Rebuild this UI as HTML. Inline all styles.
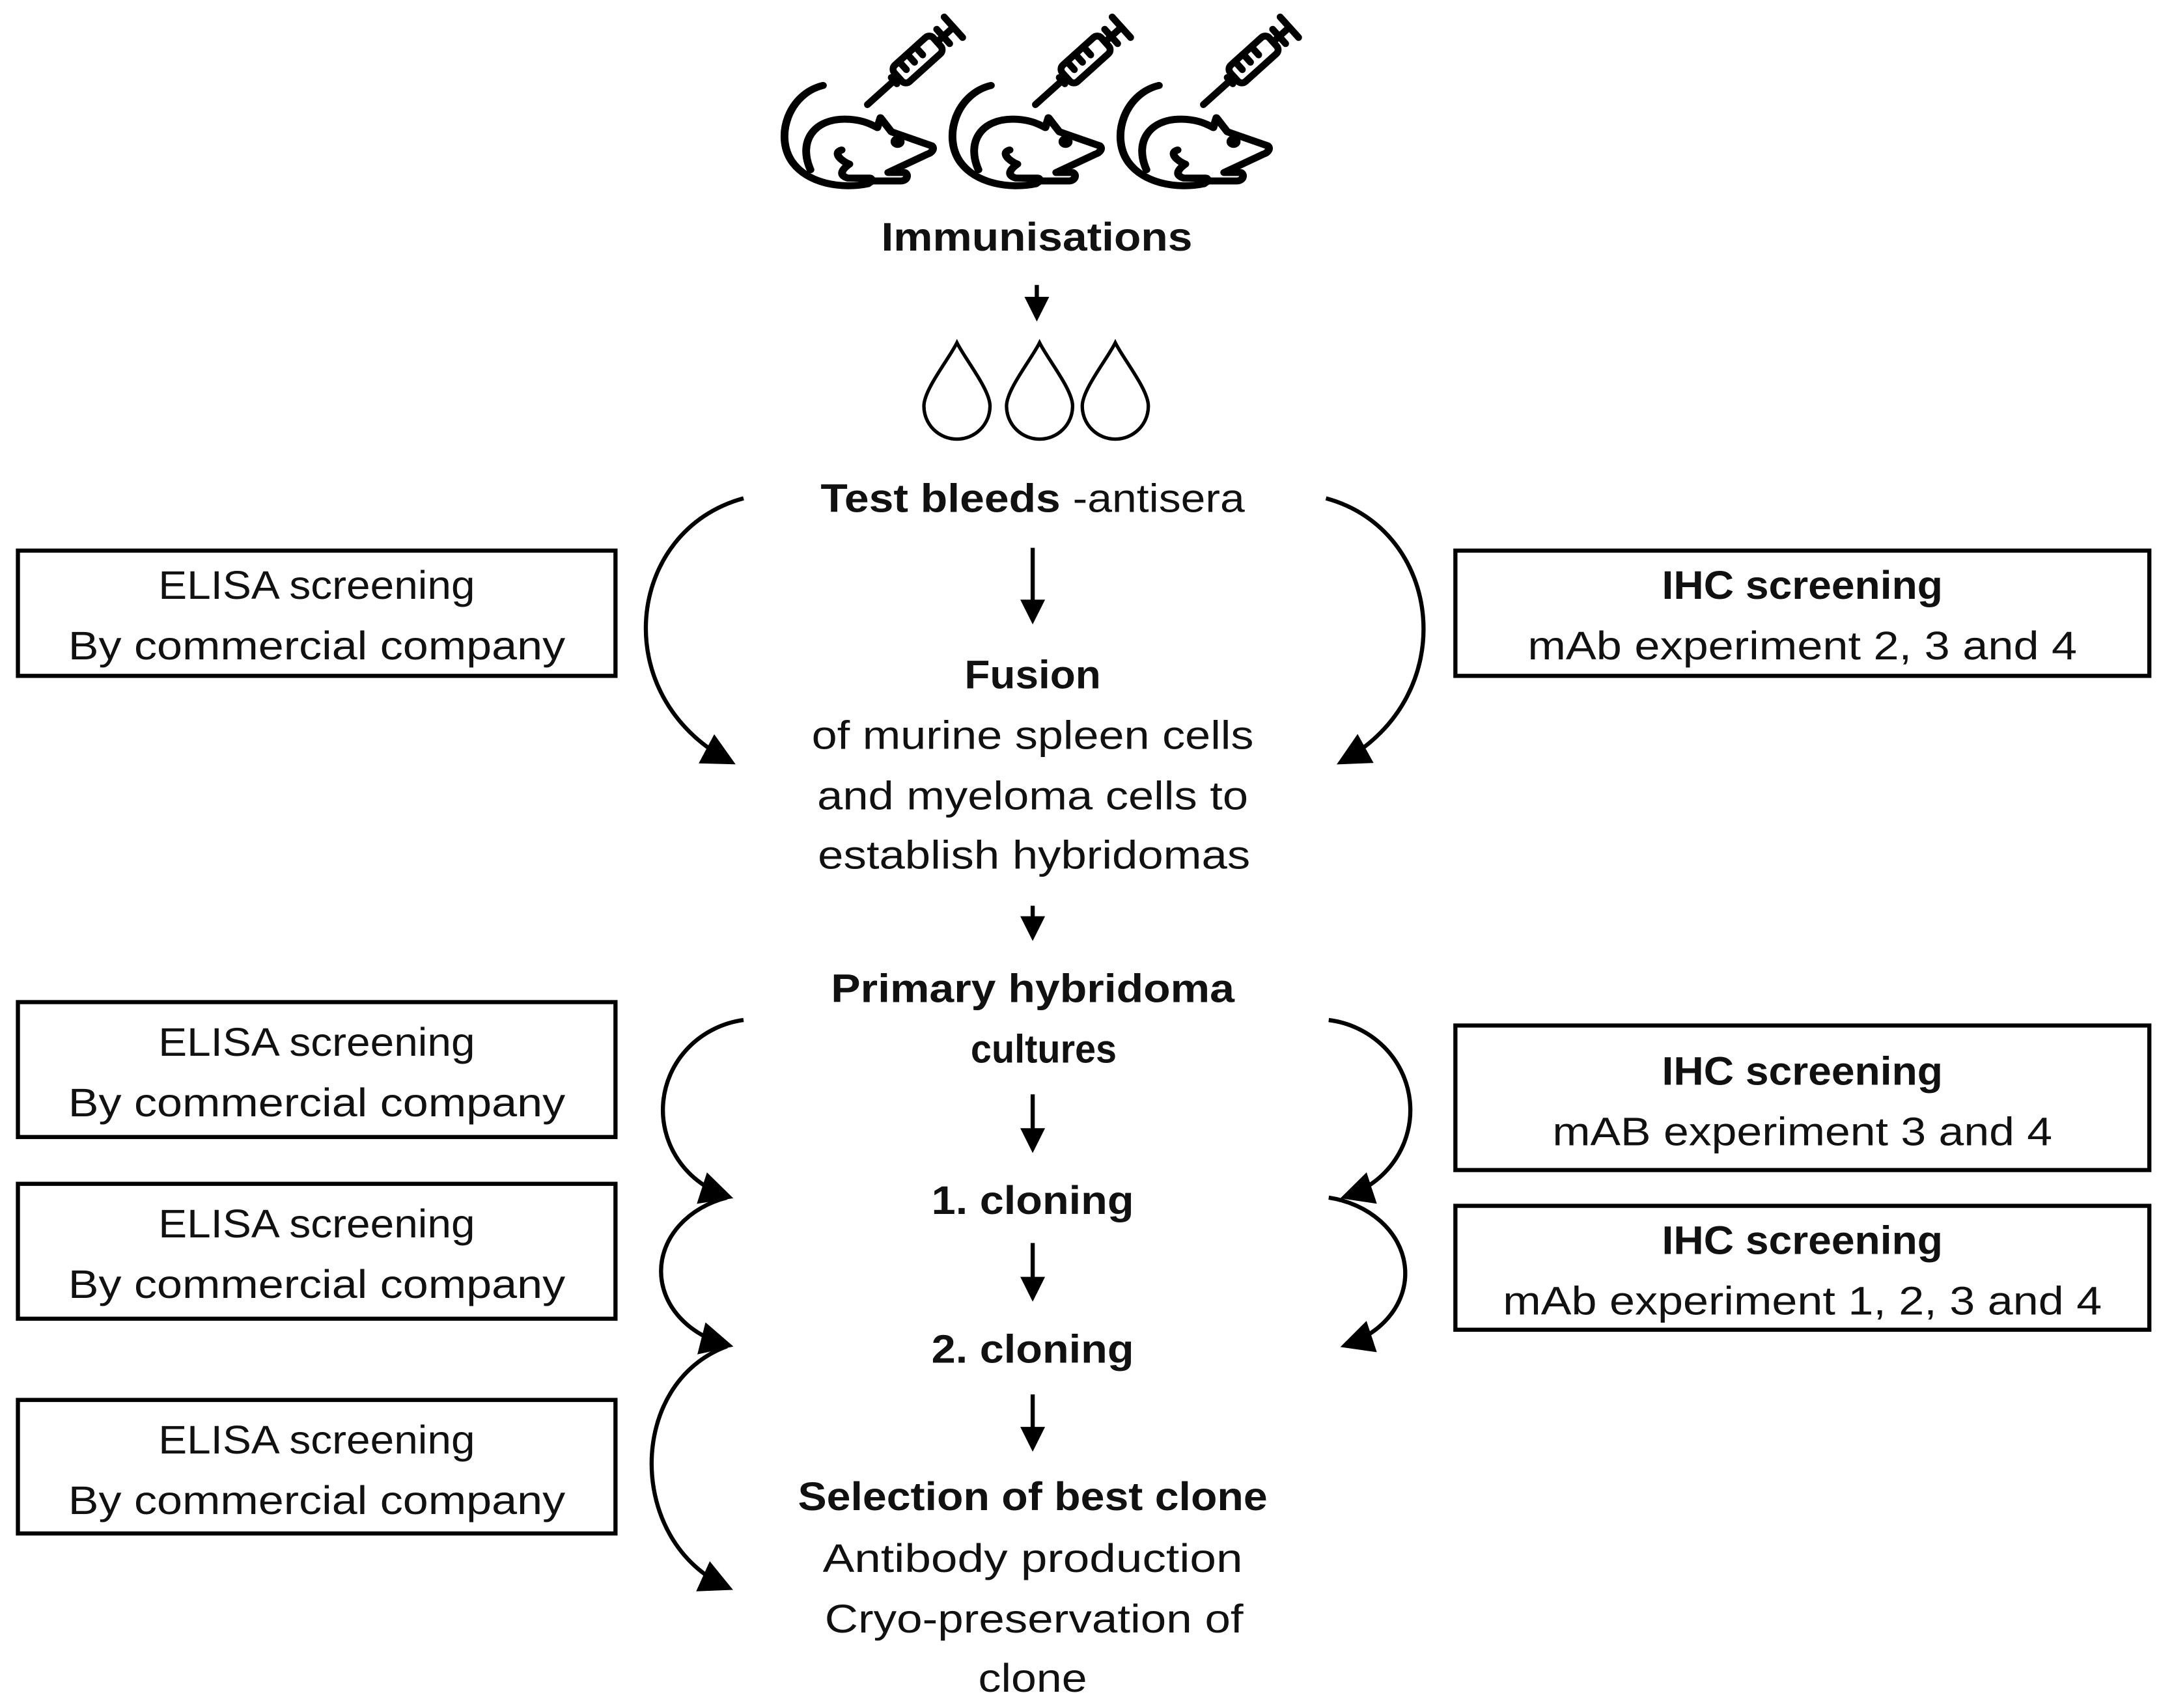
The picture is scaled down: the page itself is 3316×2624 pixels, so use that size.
<!DOCTYPE html>
<html><head><meta charset="utf-8"><style>
html,body{margin:0;padding:0;background:#fff}
svg{display:block}
text{font-family:"Liberation Sans",sans-serif;font-size:29px;fill:#111}
.b{font-weight:bold}
</style></head><body>
<svg width="3316" height="2624" viewBox="0 0 1568 1240.8" xmlns="http://www.w3.org/2000/svg">
<defs>
<marker id="ah" viewBox="0 0 10 10" refX="8" refY="5" markerWidth="20" markerHeight="18" markerUnits="userSpaceOnUse" orient="auto"><path d="M0,0 L10,5 L0,10 Z" fill="#000"/></marker>
<marker id="ah2" viewBox="0 0 10 10" refX="8" refY="5" markerWidth="8" markerHeight="8" markerUnits="strokeWidth" orient="auto"><path d="M0,0 L10,5 L0,10 Z" fill="#000"/></marker>
<g id="mouse" fill="none" stroke="#000" stroke-width="5" stroke-linecap="round" stroke-linejoin="round">
<g transform="scale(1.13,1.02)">
<path d="M28,4 C6,10 -3,40 8,58 C18,74 40,78 57,74"/>
<path d="M20,64 C12,44 22,28 42,28 C52,28 58,31 63,34 L65,27 L72,37 L98,47 C100,49 98,52 95,53 L70,66 L80,66 C83,66 83,72 78,72 L55,72"/>
<path d="M40,50 C34,52 40,58 45,60 C40,64 38,68 44,70 L58,70 C60,70 60,73 56,74"/>
<circle cx="76" cy="44" r="2" fill="#000"/>
</g>
<g transform="translate(64,18) rotate(-42)">
<line x1="0" y1="0" x2="26" y2="0"/>
<line x1="26" y1="-3" x2="26" y2="3"/>
<rect x="30" y="-8" width="38" height="16" rx="4"/>
<line x1="38" y1="-8" x2="38" y2="0"/><line x1="46" y1="-8" x2="46" y2="0"/><line x1="54" y1="-8" x2="54" y2="0"/>
<line x1="68" y1="0" x2="84" y2="0"/>
<line x1="84" y1="-10" x2="84" y2="10"/>
<line x1="74" y1="-7" x2="74" y2="7"/>
</g>
</g>
<path id="drop" d="M0,-34 C-6,-22 -24,0 -24,12 A24,24 0 0 0 24,12 C24,0 6,-22 0,-34 Z" fill="none" stroke="#000" stroke-width="2.5"/>
</defs>

<use href="#mouse" x="566" y="58"/>
<use href="#mouse" x="688" y="58"/>
<use href="#mouse" x="810" y="58"/>

<text class="b" x="753" y="182" text-anchor="middle" textLength="226" lengthAdjust="spacingAndGlyphs">Immunisations</text>
<line x1="753" y1="207" x2="753" y2="230" stroke="#000" stroke-width="3" marker-end="url(#ah)"/>

<use href="#drop" x="695" y="283"/>
<use href="#drop" x="755" y="283"/>
<use href="#drop" x="810" y="283"/>

<text x="596" y="372" textLength="308" lengthAdjust="spacingAndGlyphs"><tspan class="b">Test bleeds</tspan> -antisera</text>
<line x1="750" y1="398" x2="750" y2="450" stroke="#000" stroke-width="3" marker-end="url(#ah)"/>

<text class="b" x="750" y="500" text-anchor="middle" textLength="99" lengthAdjust="spacingAndGlyphs">Fusion</text>
<text x="750" y="544" text-anchor="middle" textLength="321" lengthAdjust="spacingAndGlyphs">of murine spleen cells</text>
<text x="750" y="588" text-anchor="middle" textLength="313" lengthAdjust="spacingAndGlyphs">and myeloma cells to</text>
<text x="751" y="631" text-anchor="middle" textLength="314" lengthAdjust="spacingAndGlyphs">establish hybridomas</text>
<line x1="750" y1="658" x2="750" y2="680" stroke="#000" stroke-width="3" marker-end="url(#ah)"/>

<text class="b" x="750" y="728" text-anchor="middle" textLength="293" lengthAdjust="spacingAndGlyphs">Primary hybridoma</text>
<text class="b" x="758" y="772" text-anchor="middle" textLength="106" lengthAdjust="spacingAndGlyphs">cultures</text>
<line x1="750" y1="795" x2="750" y2="834" stroke="#000" stroke-width="3" marker-end="url(#ah)"/>
<text class="b" x="750" y="882" text-anchor="middle" textLength="147" lengthAdjust="spacingAndGlyphs">1. cloning</text>
<line x1="750" y1="903" x2="750" y2="942" stroke="#000" stroke-width="3" marker-end="url(#ah)"/>
<text class="b" x="750" y="990" text-anchor="middle" textLength="147" lengthAdjust="spacingAndGlyphs">2. cloning</text>
<line x1="750" y1="1013" x2="750" y2="1051" stroke="#000" stroke-width="3" marker-end="url(#ah)"/>
<text class="b" x="750" y="1097" text-anchor="middle" textLength="341" lengthAdjust="spacingAndGlyphs">Selection of best clone</text>
<text x="750" y="1142" text-anchor="middle" textLength="305" lengthAdjust="spacingAndGlyphs">Antibody production</text>
<text x="751" y="1186" text-anchor="middle" textLength="304" lengthAdjust="spacingAndGlyphs">Cryo-preservation of</text>
<text x="750" y="1229" text-anchor="middle" textLength="79" lengthAdjust="spacingAndGlyphs">clone</text>

<g fill="none" stroke="#000" stroke-width="3">
<rect x="13" y="400" width="434" height="91"/>
<rect x="13" y="728" width="434" height="98"/>
<rect x="13" y="860" width="434" height="98"/>
<rect x="13" y="1017" width="434" height="97"/>
<rect x="1057" y="400" width="504" height="91"/>
<rect x="1057" y="745" width="504" height="105"/>
<rect x="1057" y="876" width="504" height="90"/>
</g>
<g>
<text x="230" y="435" text-anchor="middle" textLength="230" lengthAdjust="spacingAndGlyphs">ELISA screening</text>
<text x="230" y="479" text-anchor="middle" textLength="361" lengthAdjust="spacingAndGlyphs">By commercial company</text>
<text x="230" y="767" text-anchor="middle" textLength="230" lengthAdjust="spacingAndGlyphs">ELISA screening</text>
<text x="230" y="811" text-anchor="middle" textLength="361" lengthAdjust="spacingAndGlyphs">By commercial company</text>
<text x="230" y="899" text-anchor="middle" textLength="230" lengthAdjust="spacingAndGlyphs">ELISA screening</text>
<text x="230" y="943" text-anchor="middle" textLength="361" lengthAdjust="spacingAndGlyphs">By commercial company</text>
<text x="230" y="1056" text-anchor="middle" textLength="230" lengthAdjust="spacingAndGlyphs">ELISA screening</text>
<text x="230" y="1100" text-anchor="middle" textLength="361" lengthAdjust="spacingAndGlyphs">By commercial company</text>
<text class="b" x="1309" y="435" text-anchor="middle" textLength="204" lengthAdjust="spacingAndGlyphs">IHC screening</text>
<text x="1309" y="479" text-anchor="middle" textLength="399" lengthAdjust="spacingAndGlyphs">mAb experiment 2, 3 and 4</text>
<text class="b" x="1309" y="788" text-anchor="middle" textLength="204" lengthAdjust="spacingAndGlyphs">IHC screening</text>
<text x="1309" y="832" text-anchor="middle" textLength="363" lengthAdjust="spacingAndGlyphs">mAB experiment 3 and 4</text>
<text class="b" x="1309" y="911" text-anchor="middle" textLength="204" lengthAdjust="spacingAndGlyphs">IHC screening</text>
<text x="1309" y="955" text-anchor="middle" textLength="435" lengthAdjust="spacingAndGlyphs">mAb experiment 1, 2, 3 and 4</text>
</g>

<g fill="none" stroke="#000" stroke-width="3">
<path d="M540,362 C455,385 440,505 530,553" marker-end="url(#ah2)"/>
<path d="M963,362 C1048,385 1062,505 975,553" marker-end="url(#ah2)"/>
<path d="M540,741 A68,66 0 0 0 528,869" marker-end="url(#ah2)"/>
<path d="M965,741 A68,66 0 0 1 978,869" marker-end="url(#ah2)"/>
<path d="M528,870 A68,56 0 0 0 528,977" marker-end="url(#ah2)"/>
<path d="M965,870 A68,56 0 0 1 978,977" marker-end="url(#ah2)"/>
<path d="M528,978 C455,1005 455,1120 528,1153" marker-end="url(#ah2)"/>
</g>
</svg>
</body></html>
